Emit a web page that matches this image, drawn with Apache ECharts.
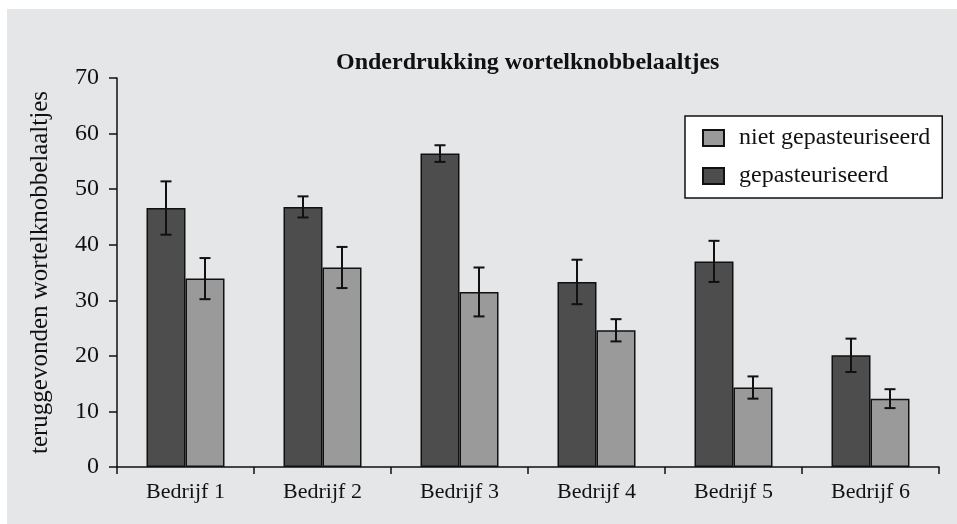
<!DOCTYPE html>
<html><head><meta charset="utf-8">
<script src="https://cdn.jsdelivr.net/npm/echarts@6/dist/echarts.min.js"></script>
<style>html,body{margin:0;padding:0;background:#fff}#c{width:957px;height:524px}</style>
</head><body><div id="c"></div>
<script>
var categories = ['Bedrijf 1','Bedrijf 2','Bedrijf 3','Bedrijf 4','Bedrijf 5','Bedrijf 6'];
var pastValues = [46.6, 46.8, 56.4, 33.3, 37.0, 20.1];
var pastErr = [4.8, 1.9, 1.5, 4.0, 3.7, 3.0];
var nietValues = [33.9, 35.9, 31.5, 24.6, 14.3, 12.3];
var nietErr = [3.7, 3.7, 4.4, 2.0, 2.0, 1.7];
var yTicks = [0, 10, 20, 30, 40, 50, 60, 70];

var FONT = '"Liberation Serif", "DejaVu Serif", serif';
var chart = echarts.init(document.getElementById('c'));

function errData(vals, errs) {
  return vals.map(function (v, i) { return [i, v - errs[i], v + errs[i]]; });
}
function errRender(offset) {
  return function (params, api) {
    var i = api.value(0);
    var lo = api.coord([i, api.value(1)]);
    var hi = api.coord([i, api.value(2)]);
    var x = lo[0] + offset;
    var cap = 5.5;
    var st = { stroke: '#111', lineWidth: 2 };
    return { type: 'group', children: [
      { type: 'line', shape: { x1: x, y1: lo[1], x2: x, y2: hi[1] }, style: st },
      { type: 'line', shape: { x1: x - cap, y1: lo[1], x2: x + cap, y2: lo[1] }, style: st },
      { type: 'line', shape: { x1: x - cap, y1: hi[1], x2: x + cap, y2: hi[1] }, style: st }
    ]};
  };
}

chart.setOption({
  animation: false,
  backgroundColor: '#ffffff',
  graphic: [{ type: 'rect', left: 7, top: 9, shape: { width: 950, height: 515 }, style: { fill: '#e5e6e8' }, z: -10 }],
  title: {
    text: 'Onderdrukking wortelknobbelaaltjes',
    left: 331, top: 46,
    textStyle: { fontFamily: FONT, fontWeight: 'bold', fontSize: 24, color: '#111' }
  },
  legend: {
    orient: 'vertical', left: 685, top: 116,
    data: [{ name: 'niet gepasteuriseerd', icon: 'rect' }, { name: 'gepasteuriseerd', icon: 'rect' }],
    backgroundColor: '#ffffff', borderColor: '#111', borderWidth: 1.5,
    padding: [10, 12, 10, 17], itemGap: 14, itemWidth: 21, itemHeight: 16,
    textStyle: { fontFamily: FONT, fontSize: 24, color: '#111', padding: [0, 0, 0, 10] }
  },
  grid: { left: 117, right: 18, top: 78, bottom: 57 },
  xAxis: {
    type: 'category', data: categories,
    axisLine: { lineStyle: { color: '#111', width: 1.5 } },
    axisTick: { show: true, length: 7, lineStyle: { color: '#111', width: 1.5 } },
    axisLabel: { fontFamily: FONT, fontSize: 22, color: '#111', margin: 14 }
  },
  yAxis: {
    type: 'value', min: yTicks[0], max: yTicks[yTicks.length - 1], interval: 10,
    name: 'teruggevonden wortelknobbelaaltjes', nameLocation: 'middle', nameGap: 64,
    nameTextStyle: { fontFamily: FONT, fontSize: 25, color: '#111' },
    axisLine: { show: true, lineStyle: { color: '#111', width: 1.5 } },
    axisTick: { show: true, length: 8, lineStyle: { color: '#111', width: 1.5 } },
    axisLabel: { fontFamily: FONT, fontSize: 24, color: '#111', margin: 18 },
    splitLine: { show: false }
  },
  series: [
    { name: 'gepasteuriseerd', type: 'bar', data: pastValues, barWidth: 39, barGap: '0%',
      itemStyle: { color: '#4d4d4d', borderColor: '#111', borderWidth: 1.5 } },
    { name: 'niet gepasteuriseerd', type: 'bar', data: nietValues, barWidth: 39, barGap: '0%',
      itemStyle: { color: '#9a9a9a', borderColor: '#111', borderWidth: 1.5 } },
    { name: 'errPast', type: 'custom', data: errData(pastValues, pastErr), renderItem: errRender(-19.5), z: 10 },
    { name: 'errNiet', type: 'custom', data: errData(nietValues, nietErr), renderItem: errRender(19.5), z: 10 }
  ]
});
</script></body></html>
